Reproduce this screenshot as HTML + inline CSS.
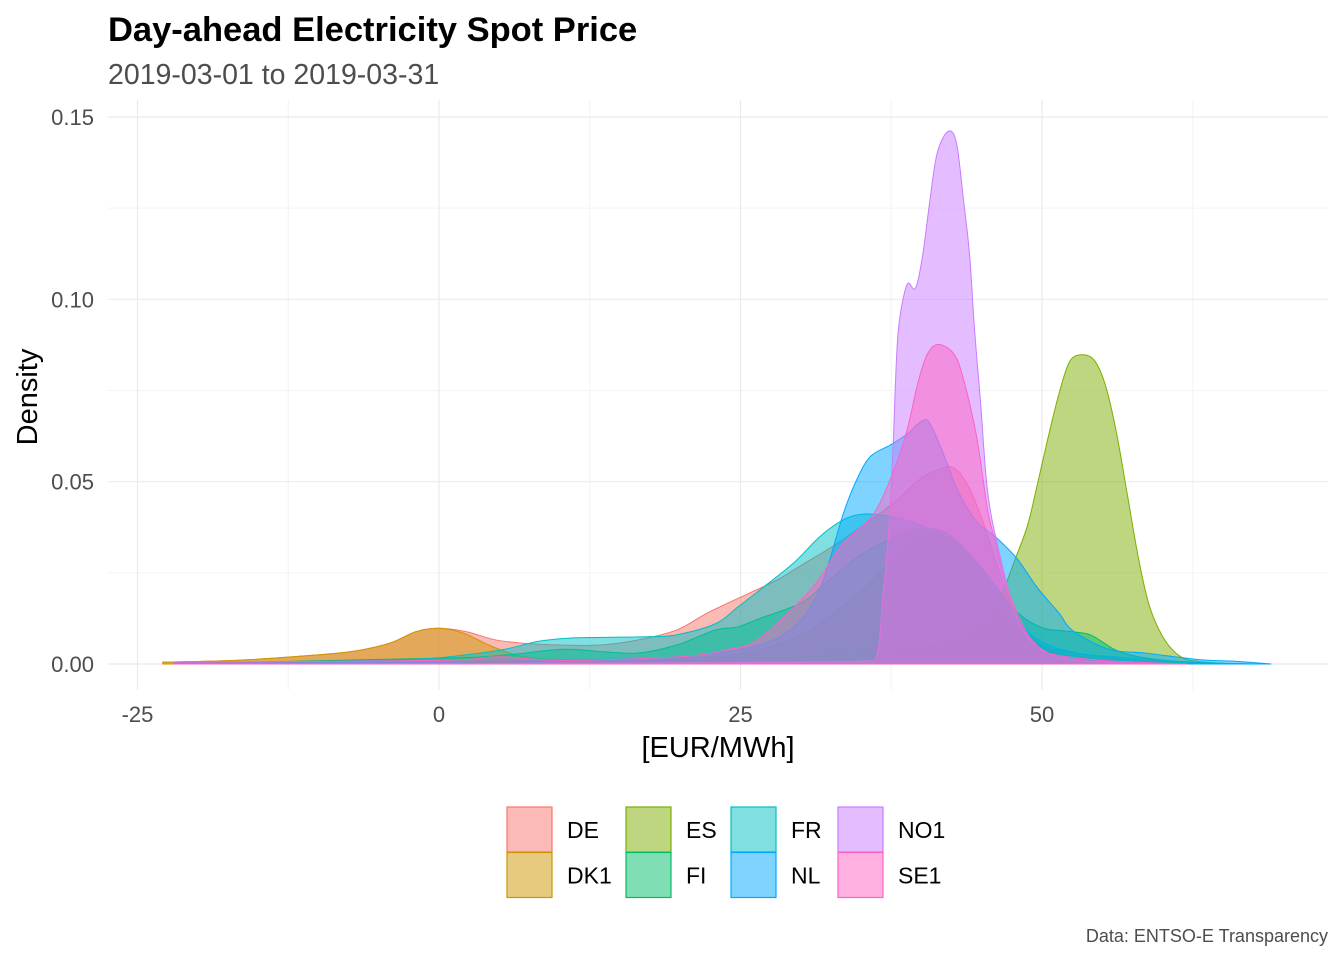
<!DOCTYPE html>
<html><head><meta charset="utf-8"><style>
body{margin:0;background:#fff;}
svg{display:block;font-family:"Liberation Sans",Arial,sans-serif;}
</style></head><body>
<svg id="chart" width="1344" height="960" viewBox="0 0 1344 960">
<text x="108" y="41" font-size="34.5" font-weight="bold" fill="#000">Day-ahead Electricity Spot Price</text>
<text x="108" y="84" font-size="28.5" fill="#4d4d4d">2019-03-01 to 2019-03-31</text>
<g id="grid"></g>
<g id="series"></g>
<g id="axes"></g>
<text x="718" y="757" font-size="29" text-anchor="middle" fill="#000">[EUR/MWh]</text>
<text transform="translate(37,397) rotate(-90)" font-size="29" text-anchor="middle" fill="#000">Density</text>
<g id="legend"></g>
<text x="1328" y="942" font-size="18" text-anchor="end" fill="#4d4d4d">Data: ENTSO-E Transparency</text>
</svg>
<script>
const xTicks = [-25, 0, 25, 50];
const xMinor = [-12.5, 12.5, 37.5, 62.5];
const yTicks = [0, 0.05, 0.10, 0.15];
const yTickLabels = ["0.00", "0.05", "0.10", "0.15"];
const yMinor = [0.025, 0.075, 0.125];
const seriesNames = ["DE","DK1","ES","FI","FR","NL","NO1","SE1"];
const seriesColors = ["#F8766D","#CD9600","#7CAE00","#00BE67","#00BFC4","#00A9FF","#C77CFF","#FF61C3"];

const deX = [-22.9,-16.8,-12.1,-7.3,-4.1,-1.9,0,2.2,4.7,7,10.1,13.4,16.5,19.7,22.2,24.8,28,30,33,36,38,40,42,43,44,45,46,47,48,50,53,58,64,69];
const deY = [0.0005,0.001,0.002,0.0034,0.0057,0.0089,0.0098,0.0089,0.0066,0.0057,0.0052,0.0052,0.0066,0.0093,0.0139,0.018,0.023,0.027,0.033,0.04,0.045,0.051,0.054,0.053,0.048,0.04,0.03,0.02,0.012,0.005,0.002,0.001,0.0002,0];
const dk1X = [-22.9,-16.8,-12.1,-7.3,-4.1,-1.9,0,2,3.8,5.1,7,10,15,20,25,30,35,38,40,42,44,46,48,50,55,60,66];
const dk1Y = [0.0005,0.001,0.002,0.0034,0.0057,0.0089,0.0098,0.0085,0.0057,0.0039,0.002,0.0012,0.001,0.0015,0.003,0.008,0.02,0.03,0.035,0.035,0.03,0.02,0.01,0.005,0.002,0.0005,0];
const esX = [-22,0,20,30,40,44,46,47,47.8,48.8,49.6,50.5,51.4,52.3,53.4,54.4,55.3,56.2,57.1,58,58.9,60.1,61.5,63,66];
const esY = [0,0.0005,0.001,0.002,0.005,0.009,0.015,0.022,0.029,0.038,0.049,0.062,0.074,0.083,0.0848,0.083,0.076,0.063,0.046,0.029,0.016,0.007,0.002,0.0007,0];
const fiX = [-22,-5.8,3.8,10.1,13.4,16.5,19.7,22.9,24.8,26.6,30,32,35,38,40,42,44,46,48,50,52,54,56,58,62,67];
const fiY = [0,0.0012,0.002,0.004,0.0034,0.003,0.0052,0.0093,0.0102,0.0125,0.0167,0.022,0.03,0.035,0.037,0.036,0.03,0.022,0.014,0.01,0.009,0.008,0.004,0.002,0.0005,0];
const frX = [-22,-15,-2.6,2.2,5.4,8.2,10.8,13.4,17.5,19.7,22.9,24.8,26.6,29.4,31.6,33.5,34.9,36.3,38,40,42,44,46,48,50,53,56,60,64,68];
const frY = [0,0.0005,0.0012,0.0025,0.004,0.0062,0.0071,0.0073,0.0075,0.008,0.011,0.0157,0.0203,0.0277,0.035,0.0395,0.041,0.041,0.04,0.038,0.035,0.03,0.022,0.012,0.006,0.003,0.002,0.001,0.0003,0];
const nlX = [-22,0,10,20,25,28,30,31.5,32.4,33.5,34.7,35.8,37.4,38.8,40,40.7,41.9,43.1,44.6,46.1,47.9,49.6,51.4,52.6,55.6,58.6,63,66.3,69];
const nlY = [0.0003,0.0005,0.001,0.002,0.004,0.007,0.012,0.02,0.0285,0.041,0.051,0.057,0.06,0.063,0.0665,0.066,0.057,0.047,0.039,0.035,0.029,0.021,0.014,0.009,0.004,0.003,0.0012,0.0007,0];
const no1X = [-22,20,30,35.1,36.3,36.8,37.3,37.6,37.8,38.1,38.8,39.5,40.1,40.7,41.3,42.2,42.9,43.5,44,44.4,44.9,45.5,46.5,48,50,53,60];
const no1Y = [0,0.0003,0.0005,0.0008,0.002,0.018,0.037,0.055,0.073,0.092,0.104,0.103,0.112,0.127,0.14,0.146,0.143,0.127,0.112,0.092,0.072,0.047,0.03,0.012,0.004,0.001,0];
const se1X = [-22,0,5,10,20,24,26.6,30.8,33.5,36,37.7,38.8,39.7,40.5,41.4,42.7,43.5,44.6,45.5,46.1,47,48.5,49.6,50.8,55,62];
const se1Y = [0.0005,0.001,0.002,0.001,0.002,0.004,0.0071,0.0203,0.033,0.041,0.053,0.064,0.077,0.085,0.0876,0.085,0.078,0.062,0.042,0.034,0.022,0.01,0.005,0.0027,0.001,0];
const allX = [deX,dk1X,esX,fiX,frX,nlX,no1X,se1X];
const allY = [deY,dk1Y,esY,fiY,frY,nlY,no1Y,se1Y];

const X0 = 439, XS = (1042-439)/50;
const Y0 = 664, YS = (664-117)/0.15;
const sx = v => X0 + v*XS;
const sy = v => Y0 - v*YS;
const NS = "http://www.w3.org/2000/svg";
function mk(tag, attrs, parent){const e=document.createElementNS(NS,tag);for(const k in attrs)e.setAttribute(k,attrs[k]);parent.appendChild(e);return e;}

const grid = document.getElementById('grid');
const PL = 108, PR = 1328, PT = 100, PB = 690;
yMinor.forEach(v=>{const l=mk('line',{x1:PL,x2:PR,y1:sy(v),y2:sy(v),stroke:'#f4f4f4','stroke-width':1},grid);

});
xMinor.forEach(v=>{const l=mk('line',{x1:sx(v),x2:sx(v),y1:PT,y2:PB,stroke:'#f4f4f4','stroke-width':1},grid);

});
yTicks.forEach(v=>{const l=mk('line',{x1:PL,x2:PR,y1:sy(v),y2:sy(v),stroke:'#ebebeb','stroke-width':1.2},grid);

});
xTicks.forEach(v=>{const l=mk('line',{x1:sx(v),x2:sx(v),y1:PT,y2:PB,stroke:'#ebebeb','stroke-width':1.2},grid);

});

const axes = document.getElementById('axes');
yTicks.forEach((v,i)=>{const t=mk('text',{x:94,y:sy(v)+8,'font-size':22,'text-anchor':'end',fill:'#4d4d4d'},axes);t.textContent=yTickLabels[i];

});
xTicks.forEach(v=>{const t=mk('text',{x:sx(v),y:722,'font-size':22,'text-anchor':'middle',fill:'#4d4d4d'},axes);t.textContent=String(v);

});

function smoothPath(xs, ys){
  const p = xs.map((x,i)=>[sx(x), sy(Math.max(0,ys[i]))]);
  let d = 'M'+p[0][0]+','+p[0][1];
  for(let i=0;i<p.length-1;i++){
    const p0=p[Math.max(0,i-1)],p1=p[i],p2=p[i+1],p3=p[Math.min(p.length-1,i+2)];
    let c1y=p1[1]+(p2[1]-p0[1])/6, c2y=p2[1]-(p3[1]-p1[1])/6;
    c1y=Math.min(c1y,Y0); c2y=Math.min(c2y,Y0);
    d+=' C'+(p1[0]+(p2[0]-p0[0])/6)+','+c1y+' '+(p2[0]-(p3[0]-p1[0])/6)+','+c2y+' '+p2[0]+','+p2[1];
  }
  return d;
}
const sg = document.getElementById('series');
seriesNames.forEach((n,i)=>{
  const xs=allX[i], ys=allY[i];
  const line = smoothPath(xs, ys);
  const area = line+' L'+sx(xs[xs.length-1])+','+Y0+' L'+sx(xs[0])+','+Y0+' Z';
  const a = mk('path',{d:area,fill:seriesColors[i],'fill-opacity':0.5,stroke:seriesColors[i],'stroke-width':1},sg);
  
  
});

const lg = document.getElementById('legend');
const colX = [507,626,731,838];
seriesNames.forEach((n,i)=>{
  const c=Math.floor(i/2), r=i%2;
  const x=colX[c], y=807+r*45.5;
  const b=mk('rect',{x:x,y:y,width:45,height:45,fill:seriesColors[i],'fill-opacity':0.5,stroke:seriesColors[i],'stroke-width':1.2},lg);
  
  
  const t=mk('text',{x:x+60,y:y+31,'font-size':23,fill:'#000'},lg);t.textContent=n;
  
  
});
</script>
</body></html>
